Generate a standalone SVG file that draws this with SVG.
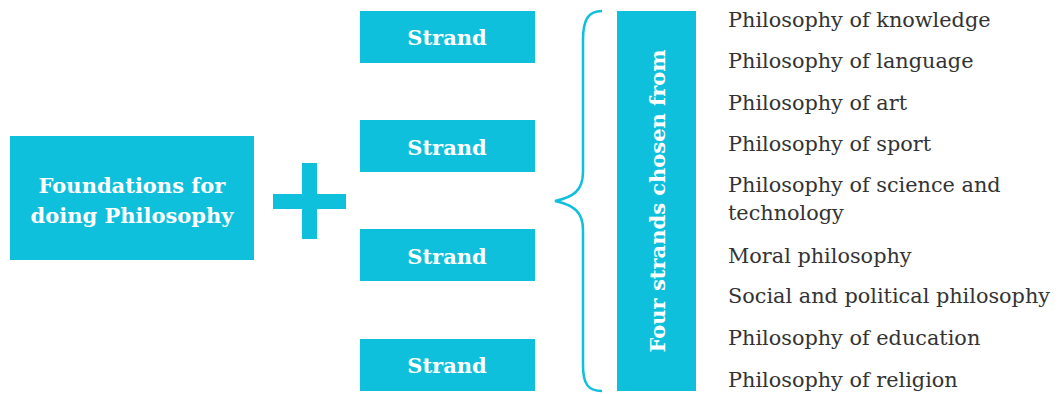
<svg xmlns="http://www.w3.org/2000/svg" width="1062" height="394" viewBox="0 0 1062 394">
<style>
.box{fill:#0FC0DD}
.lbl{font-family:"DejaVu Serif",serif;font-weight:bold;fill:#fff;font-size:21px;text-anchor:middle}
.item{font-family:"DejaVu Serif",serif;fill:#333;font-size:20.8px}
.brace{fill:none;stroke:#0FC0DD;stroke-width:2.5}
</style>
<rect width="1062" height="394" fill="#fff"/>
<g id="foundations">
<rect class="box" x="10" y="136" width="244" height="124"/>
<text class="lbl" x="132" y="193">Foundations for</text>
<text class="lbl" x="132" y="223">doing Philosophy</text>
</g>
<g id="plus">
<rect class="box" x="302" y="163" width="15" height="76"/>
<rect class="box" x="273" y="194" width="73" height="15"/>
</g>
<g id="strand1"><rect class="box" x="360" y="11" width="175" height="52"/><text class="lbl" x="447" y="45">Strand</text></g>
<g id="strand2"><rect class="box" x="360" y="120" width="175" height="52"/><text class="lbl" x="447" y="155">Strand</text></g>
<g id="strand3"><rect class="box" x="360" y="229" width="175" height="52"/><text class="lbl" x="447" y="264">Strand</text></g>
<g id="strand4"><rect class="box" x="360" y="339" width="175" height="52"/><text class="lbl" x="447" y="373">Strand</text></g>
<g id="connectors">
<path class="brace" d="M602,11 C588,11 583,20 583,40 L583,172 C583,190 574,197 555,201 C574,205 583,212 583,230 L583,365 C583,384 588,391 602,391"/>
</g>
<g id="four">
<rect class="box" x="617" y="11" width="79" height="380"/>
<text class="lbl" transform="translate(665,201) rotate(-90)" x="0" y="0">Four strands chosen from</text>
</g>
<g id="list">
<text class="item" x="728" y="27">Philosophy of knowledge</text>
<text class="item" x="728" y="68">Philosophy of language</text>
<text class="item" x="728" y="110">Philosophy of art</text>
<text class="item" x="728" y="151">Philosophy of sport</text>
<text class="item" x="728" y="192">Philosophy of science and</text>
<text class="item" x="728" y="220">technology</text>
<text class="item" x="728" y="263">Moral philosophy</text>
<text class="item" x="728" y="303">Social and political philosophy</text>
<text class="item" x="728" y="345">Philosophy of education</text>
<text class="item" x="728" y="387">Philosophy of religion</text>
</g>
</svg>
